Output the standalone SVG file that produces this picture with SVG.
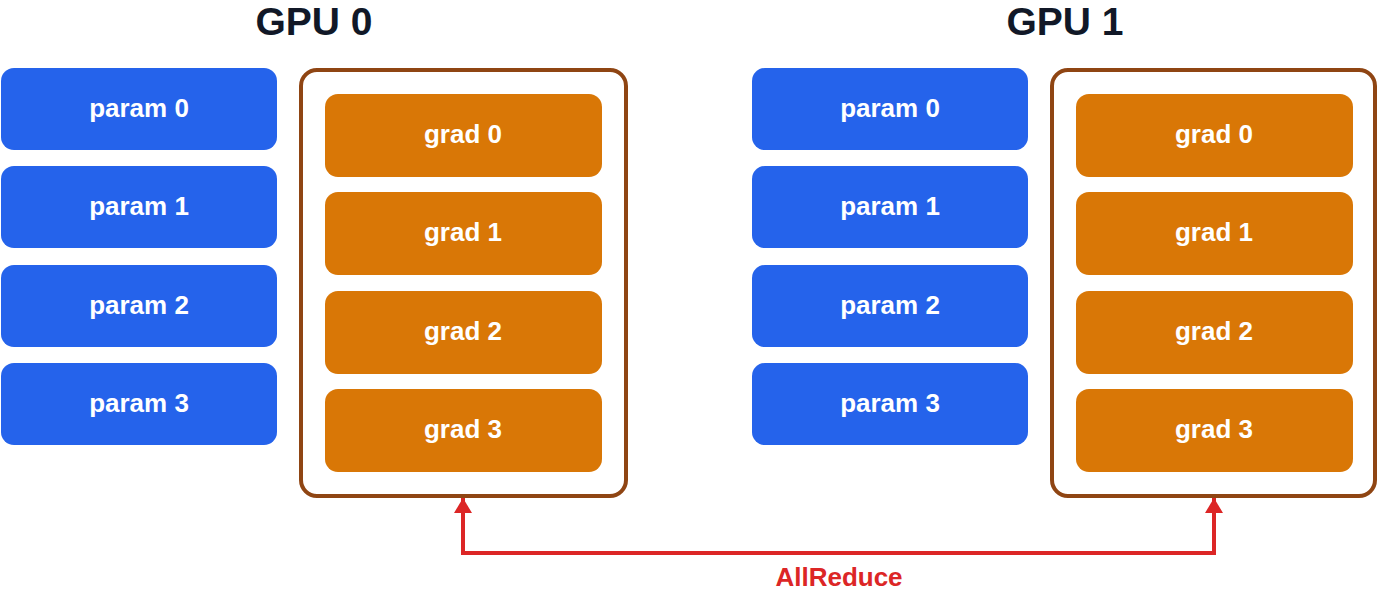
<svg xmlns="http://www.w3.org/2000/svg" width="1377" height="593" viewBox="0 0 1377 593">
  <style>
    .title { font-family: "Liberation Sans", Arial, sans-serif; font-weight: bold; font-size: 39px; fill: #111827; text-anchor: middle; }
    .param rect { fill: #2563eb; }
    .grad rect { fill: #d97706; }
    .label { font-family: "Liberation Sans", Arial, sans-serif; font-weight: bold; font-size: 26px; fill: #ffffff; text-anchor: middle; }
    .container { fill: #ffffff; stroke: #8f4513; stroke-width: 4; }
    .link { fill: none; stroke: #dc2626; stroke-width: 4; }
    .link-label { font-family: "Liberation Sans", Arial, sans-serif; font-weight: bold; font-size: 26px; fill: #dc2626; text-anchor: middle; }
  </style>
  <defs>
    <marker id="arrow" viewBox="0 0 15 18" refX="15" refY="9" markerWidth="15" markerHeight="18" markerUnits="userSpaceOnUse" orient="auto-start-reverse">
      <path d="M0 0 L15 9 L0 18 Z" fill="#dc2626"/>
    </marker>
  </defs>
  <rect width="1377" height="593" fill="#ffffff"/>

  <!-- GPU 0 -->
  <g id="gpu0">
    <text class="title" x="314" y="35">GPU 0</text>
    <g id="gpu0-param0" class="param"><rect x="1" y="68" width="276" height="82" rx="13"/><text class="label" x="139" y="117">param 0</text></g>
    <g id="gpu0-param1" class="param"><rect x="1" y="166" width="276" height="82" rx="13"/><text class="label" x="139" y="215">param 1</text></g>
    <g id="gpu0-param2" class="param"><rect x="1" y="265" width="276" height="82" rx="13"/><text class="label" x="139" y="314">param 2</text></g>
    <g id="gpu0-param3" class="param"><rect x="1" y="363" width="276" height="82" rx="13"/><text class="label" x="139" y="412">param 3</text></g>
    <g id="gpu0-grads">
      <rect class="container" x="301" y="70" width="325" height="426" rx="16"/>
      <g id="gpu0-grad0" class="grad"><rect x="325" y="94" width="277" height="83" rx="13"/><text class="label" x="463" y="143">grad 0</text></g>
      <g id="gpu0-grad1" class="grad"><rect x="325" y="192" width="277" height="83" rx="13"/><text class="label" x="463" y="241">grad 1</text></g>
      <g id="gpu0-grad2" class="grad"><rect x="325" y="291" width="277" height="83" rx="13"/><text class="label" x="463" y="340">grad 2</text></g>
      <g id="gpu0-grad3" class="grad"><rect x="325" y="389" width="277" height="83" rx="13"/><text class="label" x="463" y="438">grad 3</text></g>
    </g>
  </g>

  <!-- GPU 1 -->
  <g id="gpu1">
    <text class="title" x="1065" y="35">GPU 1</text>
    <g id="gpu1-param0" class="param"><rect x="752" y="68" width="276" height="82" rx="13"/><text class="label" x="890" y="117">param 0</text></g>
    <g id="gpu1-param1" class="param"><rect x="752" y="166" width="276" height="82" rx="13"/><text class="label" x="890" y="215">param 1</text></g>
    <g id="gpu1-param2" class="param"><rect x="752" y="265" width="276" height="82" rx="13"/><text class="label" x="890" y="314">param 2</text></g>
    <g id="gpu1-param3" class="param"><rect x="752" y="363" width="276" height="82" rx="13"/><text class="label" x="890" y="412">param 3</text></g>
    <g id="gpu1-grads">
      <rect class="container" x="1052" y="70" width="323" height="426" rx="16"/>
      <g id="gpu1-grad0" class="grad"><rect x="1076" y="94" width="277" height="83" rx="13"/><text class="label" x="1214" y="143">grad 0</text></g>
      <g id="gpu1-grad1" class="grad"><rect x="1076" y="192" width="277" height="83" rx="13"/><text class="label" x="1214" y="241">grad 1</text></g>
      <g id="gpu1-grad2" class="grad"><rect x="1076" y="291" width="277" height="83" rx="13"/><text class="label" x="1214" y="340">grad 2</text></g>
      <g id="gpu1-grad3" class="grad"><rect x="1076" y="389" width="277" height="83" rx="13"/><text class="label" x="1214" y="438">grad 3</text></g>
    </g>
  </g>

  <!-- AllReduce connector between the two gradient groups -->
  <g id="connectors">
    <path class="link" d="M463 498 L463 553 L1214 553 L1214 498" marker-start="url(#arrow)" marker-end="url(#arrow)"/>
    <text class="link-label" x="839" y="586">AllReduce</text>
  </g>
</svg>
